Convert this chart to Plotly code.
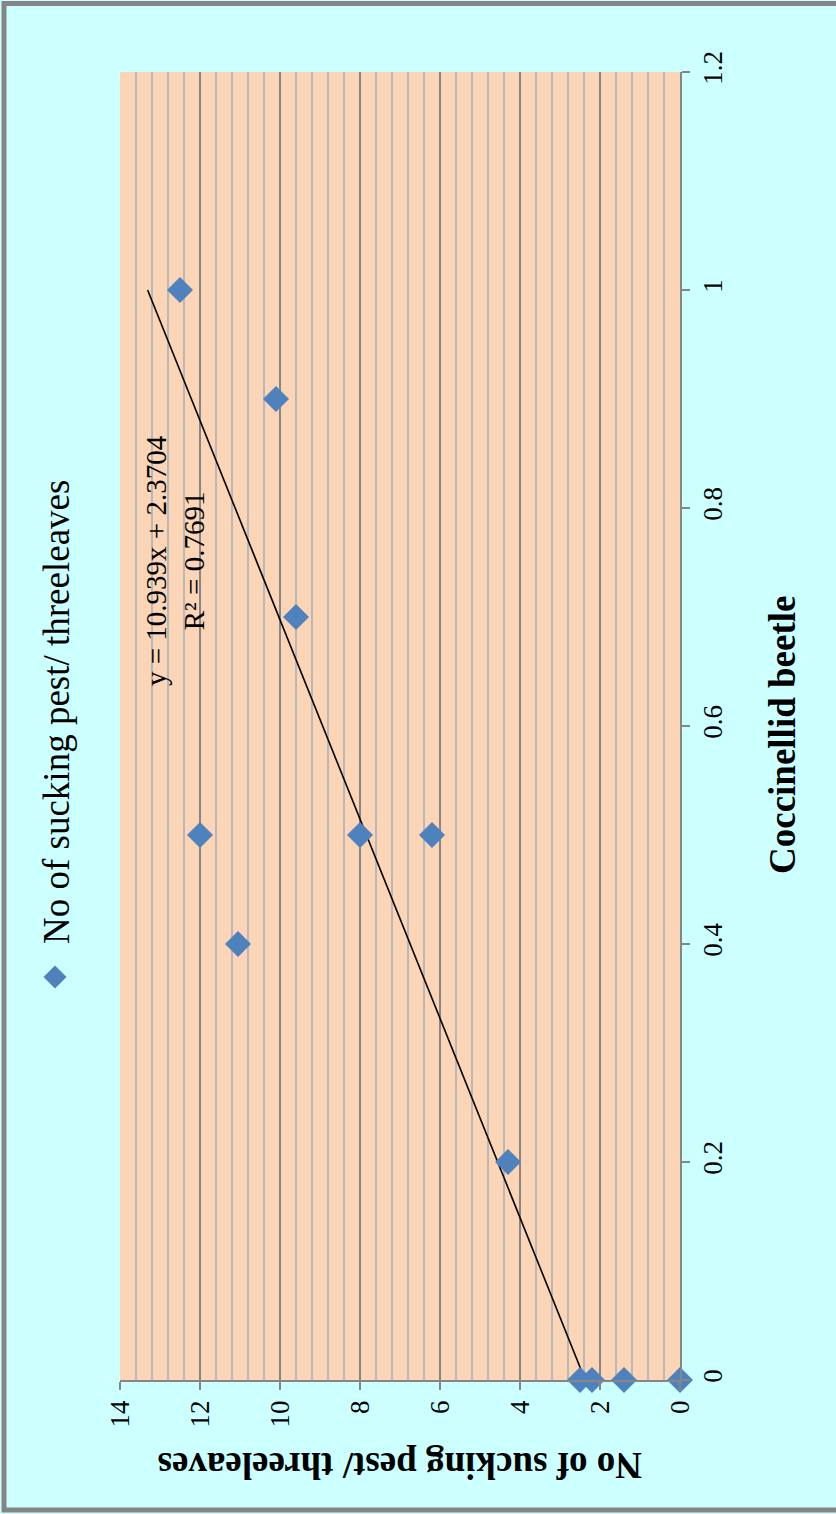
import plotly.graph_objects as go

# Data (beetle count vs sucking pest per three leaves)
beetle = [1.0, 0.9, 0.7, 0.5, 0.5, 0.5, 0.4, 0.2, 0.0, 0.0, 0.0, 0.0]
pest = [12.5, 10.1, 9.6, 12.0, 8.0, 6.2, 11.05, 4.3, 2.5, 2.2, 1.4, 0.0]
slope = 10.939
intercept = 2.3704
r2 = 0.7691
trend_beetle = [0.0, 1.0]
trend_pest = [slope * b + intercept for b in trend_beetle]

pest_ticks = [0, 2, 4, 6, 8, 10, 12, 14]
beetle_ticks = [0, 0.2, 0.4, 0.6, 0.8, 1.0, 1.2]
beetle_labels = ["0", "0.2", "0.4", "0.6", "0.8", "1", "1.2"]

series_name = "No of sucking pest/ threeleaves"
x_title = "Coccinellid beetle"
y_title = "No of sucking pest/ threeleaves"

W, H = 836, 1514
ML, MR, MT, MB = 120, 156, 72, 134
PW, PH = W - ML - MR, H - MT - MB


def px(x):  # page pixel -> paper
    return (x - ML) / PW


def py(y):
    return (H - MB - y) / PH


FONT = "Liberation Serif, Times New Roman, serif"
BLUE = "#4F81BD"

fig = go.Figure()

fig.add_trace(go.Scatter(
    x=trend_pest, y=trend_beetle, mode="lines",
    line=dict(color="black", width=1.6), showlegend=False, hoverinfo="skip"))

fig.add_trace(go.Scatter(
    x=pest, y=beetle, mode="markers", name=series_name,
    marker=dict(symbol="diamond", size=20, color=BLUE, line=dict(width=0)),
    cliponaxis=False, showlegend=False))

fig.update_layout(
    width=W, height=H,
    margin=dict(l=ML, r=MR, t=MT, b=MB),
    paper_bgcolor="#CCFFFF",
    plot_bgcolor="#FBD5B5",
    font=dict(family=FONT, color="black", size=27),
    showlegend=False,
    xaxis=dict(
        range=[14, 0], tickvals=pest_ticks, ticktext=[str(t) for t in pest_ticks],
        tickangle=-90, ticks="outside", ticklen=8, tickcolor="#868686", tickwidth=1.5,
        showline=True, linecolor="#868686", linewidth=1.5,
        showgrid=True, gridcolor="#868686", gridwidth=2,
        minor=dict(dtick=0.4, tick0=0, showgrid=True, gridcolor="#B8B8B8", gridwidth=2, ticks=""),
        zeroline=False, tickfont=dict(size=27, family=FONT, color="black"),
    ),
    yaxis=dict(
        range=[0, 1.2], side="right", tickvals=beetle_ticks, ticktext=beetle_labels,
        tickangle=-90, ticks="outside", ticklen=8, tickcolor="#868686", tickwidth=1.5,
        showline=True, linecolor="#868686", linewidth=1.5,
        showgrid=False, zeroline=False, tickfont=dict(size=27, family=FONT, color="black"),
    ),
)

ann = []
common = dict(xref="paper", yref="paper", showarrow=False, xanchor="center", yanchor="middle")
# trendline equation
ann.append(dict(
    x=px(175), y=py(561), text=f"y = {slope}x + {intercept}<br>R² = {r2}", textangle=-90,
    font=dict(size=29, family=FONT), align="center", **common))
# legend text
ann.append(dict(
    x=px(56), y=py(712), text=series_name, textangle=-90,
    font=dict(size=37, family=FONT), **common))
# axis titles
ann.append(dict(
    x=px(782), y=py(735), text=f"<b>{x_title}</b>", textangle=-90,
    font=dict(size=37, family=FONT), **common))
ann.append(dict(
    x=px(400), y=py(1466), text=f"<b>{y_title}</b>", textangle=180,
    font=dict(size=37, family=FONT), **common))
fig.update_layout(annotations=ann)

shapes = []
# legend marker
cx, cy, r = 55, 977, 11.5
shapes.append(dict(
    type="path", xref="paper", yref="paper",
    path=(f"M {px(cx - r)} {py(cy)} L {px(cx)} {py(cy - r)} "
          f"L {px(cx + r)} {py(cy)} L {px(cx)} {py(cy + r)} Z"),
    fillcolor=BLUE, line=dict(width=0)))
# outer border (left, top, bottom)
shapes.append(dict(
    type="rect", xref="paper", yref="paper",
    x0=px(4), x1=px(860), y0=py(1510), y1=py(3.5),
    line=dict(color="#858585", width=5), fillcolor="rgba(0,0,0,0)", layer="above"))
fig.update_layout(shapes=shapes)

fig.write_html(
    "out.html",
    config={"displayModeBar": False},
    post_script="document.body.style.margin='0px';document.body.style.overflow='hidden';",
)
